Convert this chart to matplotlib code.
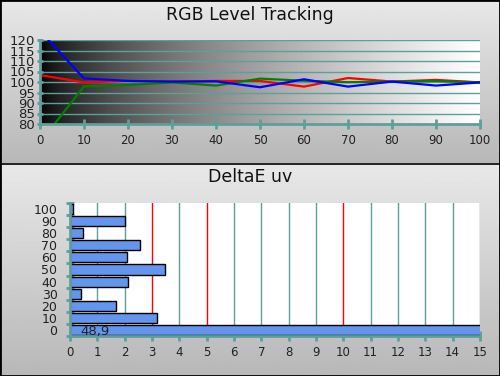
import matplotlib.pyplot as plt
import numpy as np
from matplotlib.lines import Line2D

# RGB level tracking data (stimulus level %)
levels = [0, 10, 20, 30, 40, 50, 60, 70, 80, 90, 100]
red = [103.3, 99.8, 100.5, 100.2, 100.5, 100.5, 97.8, 101.9, 100.2, 101.0, 99.8]
green = [71.2, 97.9, 98.6, 99.8, 98.3, 101.6, 100.6, 99.9, 100.2, 100.5, 99.8]
blue = [124.3, 101.7, 100.5, 100.2, 100.3, 97.5, 101.3, 97.8, 100.2, 98.3, 99.8]

# DeltaE uv per level
de_levels = [0, 10, 20, 30, 40, 50, 60, 70, 80, 90, 100]
de_values = [48.9, 3.18, 1.69, 0.41, 2.13, 3.47, 2.08, 2.56, 0.48, 2.0, 0.12]
de_label = "48,9"
thresholds = [3, 5, 10]

W, H = 500, 376
teal = "#5f9e9a"
fig = plt.figure(figsize=(W / 100, H / 100), dpi=100)

# panel backgrounds (vertical gray gradients)
grad = np.linspace(0.91, 0.72, 256).reshape(-1, 1)
for y0, h in [(1 - 163 / H, 163 / H), (0, 212 / H)]:
    bg = fig.add_axes([0, y0, 1, h], zorder=-10)
    bg.imshow(grad, cmap="gray", vmin=0, vmax=1, aspect="auto", extent=[0, 1, 0, 1])
    bg.axis("off")

# ---------- top: RGB Level Tracking ----------
ax1 = fig.add_axes([40 / W, 1 - 124 / H, 440 / W, 84 / H])
xs = np.linspace(0, 1, 512)
hgrad = (xs ** 0.65).reshape(1, -1)
ax1.imshow(hgrad, cmap="gray", vmin=0, vmax=1, aspect="auto",
           extent=[0, 100, 80, 120], zorder=0)
ax1.plot(levels, red, color="#ff0000", lw=1.6, zorder=3)
ax1.plot(levels, green, color="#008000", lw=1.6, zorder=4)
ax1.plot(levels, blue, color="#0000ff", lw=1.6, zorder=5)
ax1.set_xlim(0, 100)
ax1.set_ylim(80, 120)
ax1.set_xticks(levels)
ax1.set_yticks(range(80, 121, 5))
for yv in range(85, 121, 5):
    ax1.axhline(yv, color=teal, lw=1.0, zorder=2)
for s in ["top", "right"]:
    ax1.spines[s].set_visible(False)
for s in ["left", "bottom"]:
    ax1.spines[s].set_color(teal)
    ax1.spines[s].set_linewidth(2)
    ax1.spines[s].set_zorder(6)
ax1.tick_params(axis="x", direction="inout", length=7, width=2, color=teal,
                pad=4, labelsize=8.5, labelcolor="#222222")
ax1.tick_params(axis="y", direction="inout", length=5, width=2, color=teal,
                pad=1, labelsize=9.5, labelcolor="#222222")
fig.text(0.5, 1 - 15 / H, "RGB Level Tracking", ha="center", va="center",
         fontsize=12.5, color="#111111")

# ---------- bottom: DeltaE uv ----------
ax2 = fig.add_axes([70 / W, 1 - 336 / H, 410 / W, 133 / H])
ax2.set_facecolor("white")
ax2.barh(de_levels, de_values, height=8.3, color="#6495ed",
         edgecolor="black", linewidth=1.0, zorder=3)
ax2.set_xlim(0, 15)
ax2.set_ylim(-5, 105)
ax2.set_xticks(range(0, 16))
ax2.set_yticks(de_levels)
ax2.set_yticks(np.arange(-5, 106, 10), minor=True)
for xv in range(1, 16):
    if xv not in thresholds:
        ax2.axvline(xv, color=teal, lw=1.0, zorder=1)
for xv in thresholds:
    ax2.axvline(xv, color="#ff0000", lw=1.0, zorder=2)
for s in ["top", "right"]:
    ax2.spines[s].set_visible(False)
for s in ["left", "bottom"]:
    ax2.spines[s].set_color(teal)
    ax2.spines[s].set_linewidth(2)
    ax2.spines[s].set_zorder(6)
ax2.tick_params(axis="x", direction="inout", length=7, width=2, color=teal,
                pad=4, labelsize=8.5, labelcolor="#222222")
ax2.tick_params(axis="y", which="major", length=0, pad=9, labelsize=9,
                labelcolor="#222222")
ax2.tick_params(axis="y", which="minor", direction="inout", length=6, width=2,
                color=teal)
ax2.text(0.92, -1.5, de_label, ha="center", va="center", fontsize=9.5,
         color="#222222", zorder=7)
fig.text(0.5, 1 - 177 / H, "DeltaE uv", ha="center", va="center",
         fontsize=12.5, color="#111111")

# frame and divider
fig.add_artist(Line2D([0, 1], [1 - 163.5 / H] * 2, color="black", lw=1.2))
fig.add_artist(plt.Rectangle((0, 0), 1, 1, fill=False, edgecolor="black",
                             lw=2, transform=fig.transFigure))

fig.savefig("out.png", dpi=100)
